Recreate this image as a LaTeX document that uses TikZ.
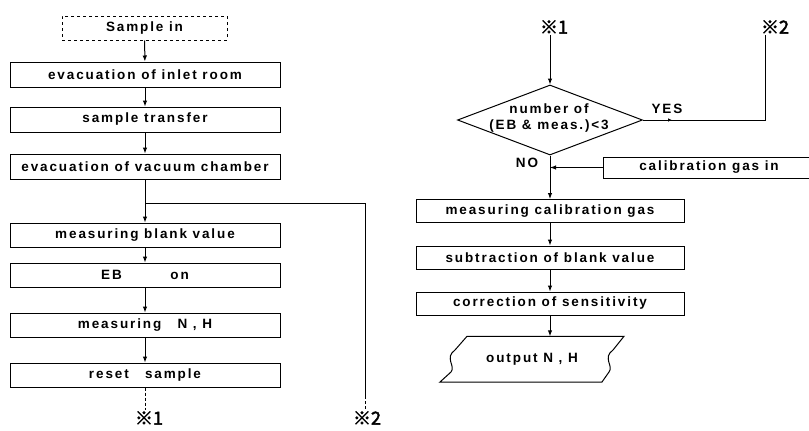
\documentclass[tikz,border=0pt]{standalone}
\usepackage{fontspec}
\setmainfont{Liberation Sans}[LetterSpace=14]
\newfontfamily\jpfont{Noto Sans CJK JP}[FakeBold=2.5]
\usetikzlibrary{arrows.meta,positioning,shapes.geometric,decorations.markings}

\begin{document}
\begin{tikzpicture}[x=1pt,y=-1pt,font=\fontsize{13.5}{16}\selectfont\bfseries,
box/.style={draw,line width=1pt,minimum width=270pt,minimum height=24pt,inner sep=0pt},
rbox/.style={box,minimum width=268pt,minimum height=23pt},
refmark/.style={font=\jpfont\fontsize{18}{18}\selectfont,inner sep=1pt},
ln/.style={line width=1pt},
arr/.style={ln,-{Latex[length=6pt,width=4.5pt]}},
midarr/.style={postaction={decorate},decoration={markings,mark=at position 0.14 with {\arrow{Latex[length=4pt,width=3.5pt]}}}}]
\useasboundingbox (0,0) rectangle (809,431);
% left column
\node[box,dashed,minimum width=165pt] (smp) at (144.5,28) {Sample in};
\node[box,minimum height=25pt] (inlet) at (145,74.5) {evacuation of inlet room};
\node[box,minimum height=25pt] (trans) at (145,119.5) {sample transfer};
\node[box,minimum height=25pt] (vac) at (145,166.5) {evacuation of vacuum chamber};
\node[box] (blank) at (145,235) {measuring blank value};
\node[box] (eb) at (145,275) {EB\hspace{3.6em}on};
\node[box] (meas) at (145,325) {measuring\hspace{1.2em}N , H};
\node[box] (reset) at (145,375) {reset\hspace{1.2em}sample};
\node[refmark] (lone) at (149,418) {※1};
\node[refmark] (ltwo) at (367,418) {※2};
\coordinate (split) at (145,203);
\coordinate (ltwoend) at (365,396);
\draw[arr](smp)--(inlet);\draw[arr](inlet)--(trans);\draw[arr](trans)--(vac);
\draw[arr](vac)--(blank);\draw[arr](blank)--(eb);\draw[arr](eb)--(meas);\draw[arr](meas)--(reset);
\draw[ln](split)-|(ltwoend);\draw[densely dashed,line width=0.6pt](ltwoend)--(ltwoend|-ltwo.north);
\draw[densely dashed,line width=0.6pt](reset.south)--(reset.south|-lone.north);
% right column
\node[refmark] (rone) at (554,27) {※1};
\node[refmark] (rtwo) at (775,27) {※2};
\node[draw,diamond,ln,minimum width=185pt,minimum height=70pt,inner sep=0pt] (cnt) at (550,120) {};
\node[align=center,inner sep=0pt] (cnttxt) at (549,118) {number of\\(EB \& meas.)<3};
\node (yes) at (667,109) {YES};
\node (no) at (527,163) {NO};
\node[box,minimum width=212pt,minimum height=21pt] (cal) at (709,167.5) {calibration gas in};
\node[rbox] (mcal) at (550,211) {measuring calibration gas};
\node[rbox] (sub) at (550,257.5) {subtraction of blank value};
\node[rbox] (corr) at (550,303.5) {correction of sensitivity};
\node[minimum width=150pt,minimum height=46pt,inner sep=0pt] (out) at (532,359.5) {output N , H};
\coordinate (yturn) at (765,120);
\draw[arr](rone.south-|cnt)--(cnt.north);
\draw[ln,midarr](cnt.east)--(yturn)--(yturn|-rtwo.south);
\draw[arr](cnt.south)--(mcal.north);
\draw[arr](cal.west)--(cal.west-|cnt.south);
\draw[arr](mcal)--(sub);\draw[arr](sub)--(corr);\draw[arr](corr.south)--(corr.south|-out.north);
\draw[ln](out.north-|467,0)--(out.north-|624,0)--(613,350) .. controls (602,358) and (614,366) .. (609,372)--(602,382)
  --(440,382)--(451,372) .. controls (456,366) and (444,358) .. (455,350)--cycle;
\end{tikzpicture}
\end{document}
